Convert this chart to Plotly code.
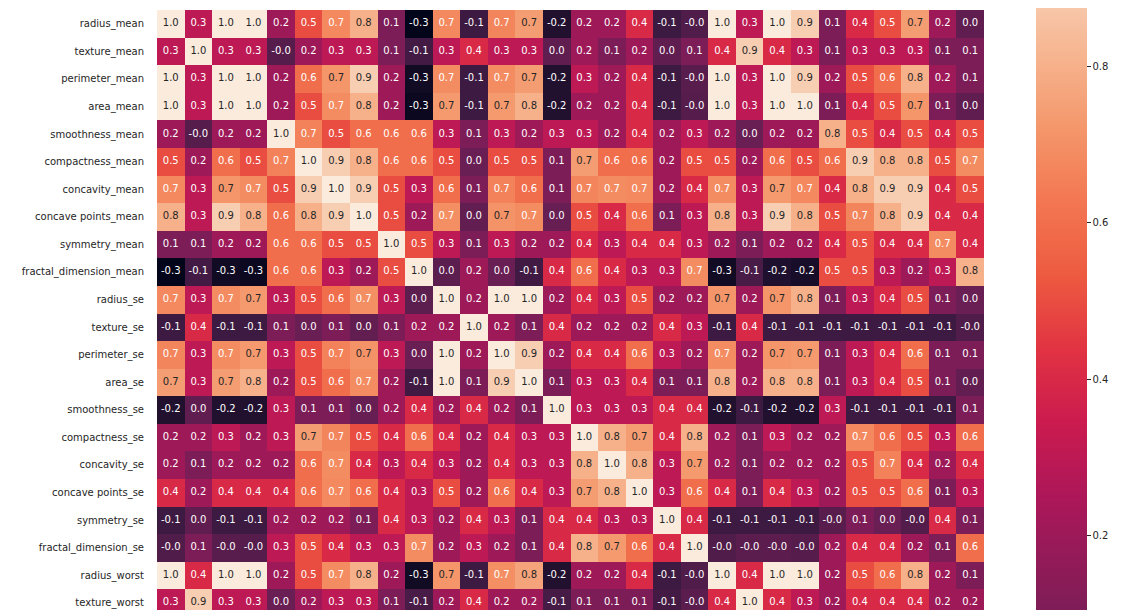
import plotly.graph_objects as go

columns = ["radius_mean", "texture_mean", "perimeter_mean", "area_mean", "smoothness_mean",
           "compactness_mean", "concavity_mean", "concave points_mean", "symmetry_mean",
           "fractal_dimension_mean", "radius_se", "texture_se", "perimeter_se", "area_se",
           "smoothness_se", "compactness_se", "concavity_se", "concave points_se", "symmetry_se",
           "fractal_dimension_se", "radius_worst", "texture_worst", "perimeter_worst", "area_worst",
           "smoothness_worst", "compactness_worst", "concavity_worst", "concave points_worst",
           "symmetry_worst", "fractal_dimension_worst"]
rows = columns[:22]

r_radius_mean = [1.0, 0.3, 1.0, 1.0, 0.2, 0.5, 0.68, 0.8, 0.1, -0.31, 0.68, -0.1, 0.67, 0.74, -0.2, 0.2, 0.2, 0.4, -0.1, -0.04, 1.0, 0.3, 1.0, 0.9, 0.1, 0.4, 0.5, 0.74, 0.2, 0.01]
r_texture_mean = [0.3, 1.0, 0.3, 0.3, -0.02, 0.2, 0.3, 0.3, 0.1, -0.08, 0.3, 0.4, 0.3, 0.3, 0.01, 0.2, 0.1, 0.2, 0.01, 0.1, 0.4, 0.9, 0.4, 0.3, 0.1, 0.3, 0.3, 0.3, 0.1, 0.1]
r_perimeter_mean = [1.0, 0.3, 1.0, 1.0, 0.2, 0.6, 0.72, 0.9, 0.2, -0.26, 0.69, -0.1, 0.69, 0.74, -0.2, 0.3, 0.2, 0.4, -0.1, -0.01, 1.0, 0.3, 1.0, 0.9, 0.2, 0.5, 0.6, 0.8, 0.2, 0.1]
r_area_mean = [1.0, 0.3, 1.0, 1.0, 0.2, 0.5, 0.69, 0.8, 0.2, -0.28, 0.73, -0.1, 0.73, 0.8, -0.2, 0.2, 0.2, 0.4, -0.1, -0.02, 1.0, 0.3, 1.0, 1.0, 0.1, 0.4, 0.5, 0.72, 0.1, 0.01]
r_smoothness_mean = [0.2, -0.02, 0.2, 0.2, 1.0, 0.66, 0.5, 0.6, 0.6, 0.6, 0.3, 0.1, 0.3, 0.2, 0.3, 0.3, 0.2, 0.4, 0.2, 0.3, 0.2, 0.04, 0.2, 0.2, 0.8, 0.5, 0.4, 0.5, 0.4, 0.5]
r_compactness_mean = [0.5, 0.2, 0.6, 0.5, 0.66, 1.0, 0.9, 0.8, 0.6, 0.6, 0.5, 0.04, 0.5, 0.5, 0.1, 0.74, 0.6, 0.6, 0.2, 0.5, 0.5, 0.2, 0.6, 0.5, 0.6, 0.9, 0.8, 0.8, 0.5, 0.69]
r_concavity_mean = [0.68, 0.3, 0.72, 0.69, 0.5, 0.9, 1.0, 0.9, 0.5, 0.3, 0.6, 0.1, 0.66, 0.6, 0.1, 0.67, 0.69, 0.68, 0.2, 0.4, 0.69, 0.3, 0.73, 0.68, 0.4, 0.8, 0.9, 0.9, 0.4, 0.5]
r_concave_points_mean = [0.8, 0.3, 0.9, 0.8, 0.6, 0.8, 0.9, 1.0, 0.5, 0.2, 0.698, 0.02, 0.71, 0.69, 0.03, 0.5, 0.4, 0.6, 0.1, 0.3, 0.8, 0.3, 0.9, 0.8, 0.5, 0.67, 0.8, 0.9, 0.4, 0.4]
r_symmetry_mean = [0.1, 0.1, 0.2, 0.2, 0.6, 0.6, 0.5, 0.5, 1.0, 0.5, 0.3, 0.1, 0.3, 0.2, 0.2, 0.4, 0.3, 0.4, 0.4, 0.3, 0.2, 0.1, 0.2, 0.2, 0.4, 0.5, 0.4, 0.4, 0.69, 0.4]
r_fractal_dimension_mean = [-0.31, -0.08, -0.26, -0.28, 0.6, 0.6, 0.3, 0.2, 0.5, 1.0, 0.0, 0.2, 0.04, -0.09, 0.4, 0.6, 0.4, 0.3, 0.3, 0.69, -0.26, -0.06, -0.21, -0.23, 0.5, 0.5, 0.3, 0.2, 0.3, 0.8]
r_radius_se = [0.68, 0.3, 0.69, 0.73, 0.3, 0.5, 0.6, 0.698, 0.3, 0.0, 1.0, 0.2, 1.0, 1.0, 0.2, 0.4, 0.3, 0.5, 0.2, 0.2, 0.72, 0.2, 0.72, 0.8, 0.1, 0.3, 0.4, 0.5, 0.1, 0.04]
r_texture_se = [-0.1, 0.4, -0.1, -0.1, 0.1, 0.04, 0.1, 0.02, 0.1, 0.2, 0.2, 1.0, 0.2, 0.1, 0.4, 0.2, 0.2, 0.2, 0.4, 0.3, -0.1, 0.4, -0.1, -0.1, -0.1, -0.1, -0.1, -0.1, -0.1, -0.04]
r_perimeter_se = [0.67, 0.3, 0.69, 0.73, 0.3, 0.5, 0.66, 0.71, 0.3, 0.04, 1.0, 0.2, 1.0, 0.9, 0.2, 0.4, 0.4, 0.6, 0.3, 0.2, 0.69, 0.2, 0.72, 0.73, 0.1, 0.3, 0.4, 0.6, 0.1, 0.1]
r_area_se = [0.74, 0.3, 0.74, 0.8, 0.2, 0.5, 0.6, 0.69, 0.2, -0.09, 1.0, 0.1, 0.9, 1.0, 0.1, 0.3, 0.3, 0.4, 0.1, 0.1, 0.8, 0.2, 0.8, 0.8, 0.1, 0.3, 0.4, 0.5, 0.1, 0.02]
r_smoothness_se = [-0.2, 0.01, -0.2, -0.2, 0.3, 0.1, 0.1, 0.03, 0.2, 0.4, 0.2, 0.4, 0.2, 0.1, 1.0, 0.3, 0.3, 0.3, 0.4, 0.4, -0.2, -0.1, -0.2, -0.2, 0.3, -0.1, -0.1, -0.1, -0.1, 0.1]
r_compactness_se = [0.2, 0.2, 0.3, 0.2, 0.3, 0.74, 0.67, 0.5, 0.4, 0.6, 0.4, 0.2, 0.4, 0.3, 0.3, 1.0, 0.8, 0.74, 0.4, 0.8, 0.2, 0.1, 0.3, 0.2, 0.2, 0.68, 0.6, 0.5, 0.3, 0.6]
r_concavity_se = [0.2, 0.1, 0.2, 0.2, 0.2, 0.6, 0.69, 0.4, 0.3, 0.4, 0.3, 0.2, 0.4, 0.3, 0.3, 0.8, 1.0, 0.8, 0.3, 0.73, 0.2, 0.1, 0.2, 0.2, 0.2, 0.5, 0.66, 0.4, 0.2, 0.4]
r_concave_points_se = [0.4, 0.2, 0.4, 0.4, 0.4, 0.6, 0.68, 0.6, 0.4, 0.3, 0.5, 0.2, 0.6, 0.4, 0.3, 0.74, 0.8, 1.0, 0.3, 0.6, 0.4, 0.1, 0.4, 0.3, 0.2, 0.5, 0.5, 0.6, 0.1, 0.3]
r_symmetry_se = [-0.1, 0.01, -0.1, -0.1, 0.2, 0.2, 0.2, 0.1, 0.4, 0.3, 0.2, 0.4, 0.3, 0.1, 0.4, 0.4, 0.3, 0.3, 1.0, 0.4, -0.1, -0.1, -0.1, -0.1, -0.01, 0.1, 0.04, -0.03, 0.4, 0.1]
r_fractal_dimension_se = [-0.04, 0.1, -0.01, -0.02, 0.3, 0.5, 0.4, 0.3, 0.3, 0.69, 0.2, 0.3, 0.2, 0.1, 0.4, 0.8, 0.73, 0.6, 0.4, 1.0, -0.04, -0.003, -0.001, -0.02, 0.2, 0.4, 0.4, 0.2, 0.1, 0.6]
r_radius_worst = [1.0, 0.4, 1.0, 1.0, 0.2, 0.5, 0.69, 0.8, 0.2, -0.26, 0.72, -0.1, 0.697, 0.76, -0.2, 0.2, 0.2, 0.4, -0.1, -0.04, 1.0, 0.4, 1.0, 1.0, 0.2, 0.5, 0.6, 0.8, 0.2, 0.1]
r_texture_worst = [0.3, 0.9, 0.3, 0.3, 0.04, 0.2, 0.3, 0.3, 0.1, -0.06, 0.2, 0.4, 0.2, 0.2, -0.07, 0.1, 0.1, 0.1, -0.08, -0.003, 0.4, 1.0, 0.4, 0.3, 0.2, 0.4, 0.4, 0.4, 0.2, 0.2]

z = [r_radius_mean, r_texture_mean, r_perimeter_mean, r_area_mean, r_smoothness_mean,
     r_compactness_mean, r_concavity_mean, r_concave_points_mean, r_symmetry_mean,
     r_fractal_dimension_mean, r_radius_se, r_texture_se, r_perimeter_se, r_area_se,
     r_smoothness_se, r_compactness_se, r_concavity_se, r_concave_points_se, r_symmetry_se,
     r_fractal_dimension_se, r_radius_worst, r_texture_worst]

cbar_ticks = [-0.2, 0.0, 0.2, 0.4, 0.6, 0.8, 1.0]
zmin, zmax = -0.3117, 1.0

rocket = [
    [0.0, "#03051a"], [1/7, "#35193e"], [2/7, "#701f57"], [3/7, "#ad1759"],
    [0.5, "#cb1b4f"], [4/7, "#e13342"], [9/14, "#ed5a40"], [5/7, "#f37651"],
    [11/14, "#f4966a"], [6/7, "#f6b48f"], [1.0, "#faebdd"],
]

FONT = "DejaVu Sans"
DARK = "#262626"

# page body has an 8px default margin; compensate so the plot sits where the reference does
W, H = 1117, 602
L, T = 149, 2
PW = 827
R = W - L - PW
PH = H - T

fig = go.Figure()
fig.add_trace(go.Heatmap(
    z=z, x=columns, y=rows, zmin=zmin, zmax=zmax, colorscale=rocket,
    hoverinfo="skip",
    colorbar=dict(
        x=(1036 - 157) / PW, xanchor="left", xpad=0,
        y=1 - (423 - 10) / PH, yanchor="middle", ypad=0,
        len=1026, lenmode="pixels", thickness=51, thicknessmode="pixels",
        outlinewidth=0, tickvals=cbar_ticks, tickformat=".1f",
        ticks="outside", ticklen=4, tickwidth=1, tickcolor=DARK,
        tickfont=dict(family=FONT, size=10, color=DARK),
    ),
))

tx, ty, tt, tc = [], [], [], []
for i, rname in enumerate(rows):
    for j, cname in enumerate(columns):
        v = z[i][j]
        tx.append(cname)
        ty.append(rname)
        tt.append(f"{v:.1f}")
        tc.append(DARK if v >= 0.70 else "white")

fig.add_trace(go.Scatter(
    x=tx, y=ty, text=tt, mode="text", textposition="middle center",
    textfont=dict(family=FONT, size=10, color=tc), hoverinfo="skip", showlegend=False,
))

fig.update_layout(
    width=W, height=H,
    margin=dict(l=L, r=R, t=T, b=0, autoexpand=False),
    paper_bgcolor="white", plot_bgcolor="white",
    font=dict(family=FONT, size=10, color=DARK),
    showlegend=False,
    xaxis=dict(type="category", categoryorder="array", categoryarray=columns,
               range=[-0.5, 29.5], showticklabels=False, ticks="", showgrid=False,
               zeroline=False, showline=False),
    yaxis=dict(type="category", categoryorder="array", categoryarray=rows,
               range=[-0.5 + PH / 27.57, -0.5], ticks="", ticklabelstandoff=12,
               showgrid=False, zeroline=False, showline=False,
               tickfont=dict(family=FONT, size=10, color=DARK)),
)

fig.write_html("out.html")
